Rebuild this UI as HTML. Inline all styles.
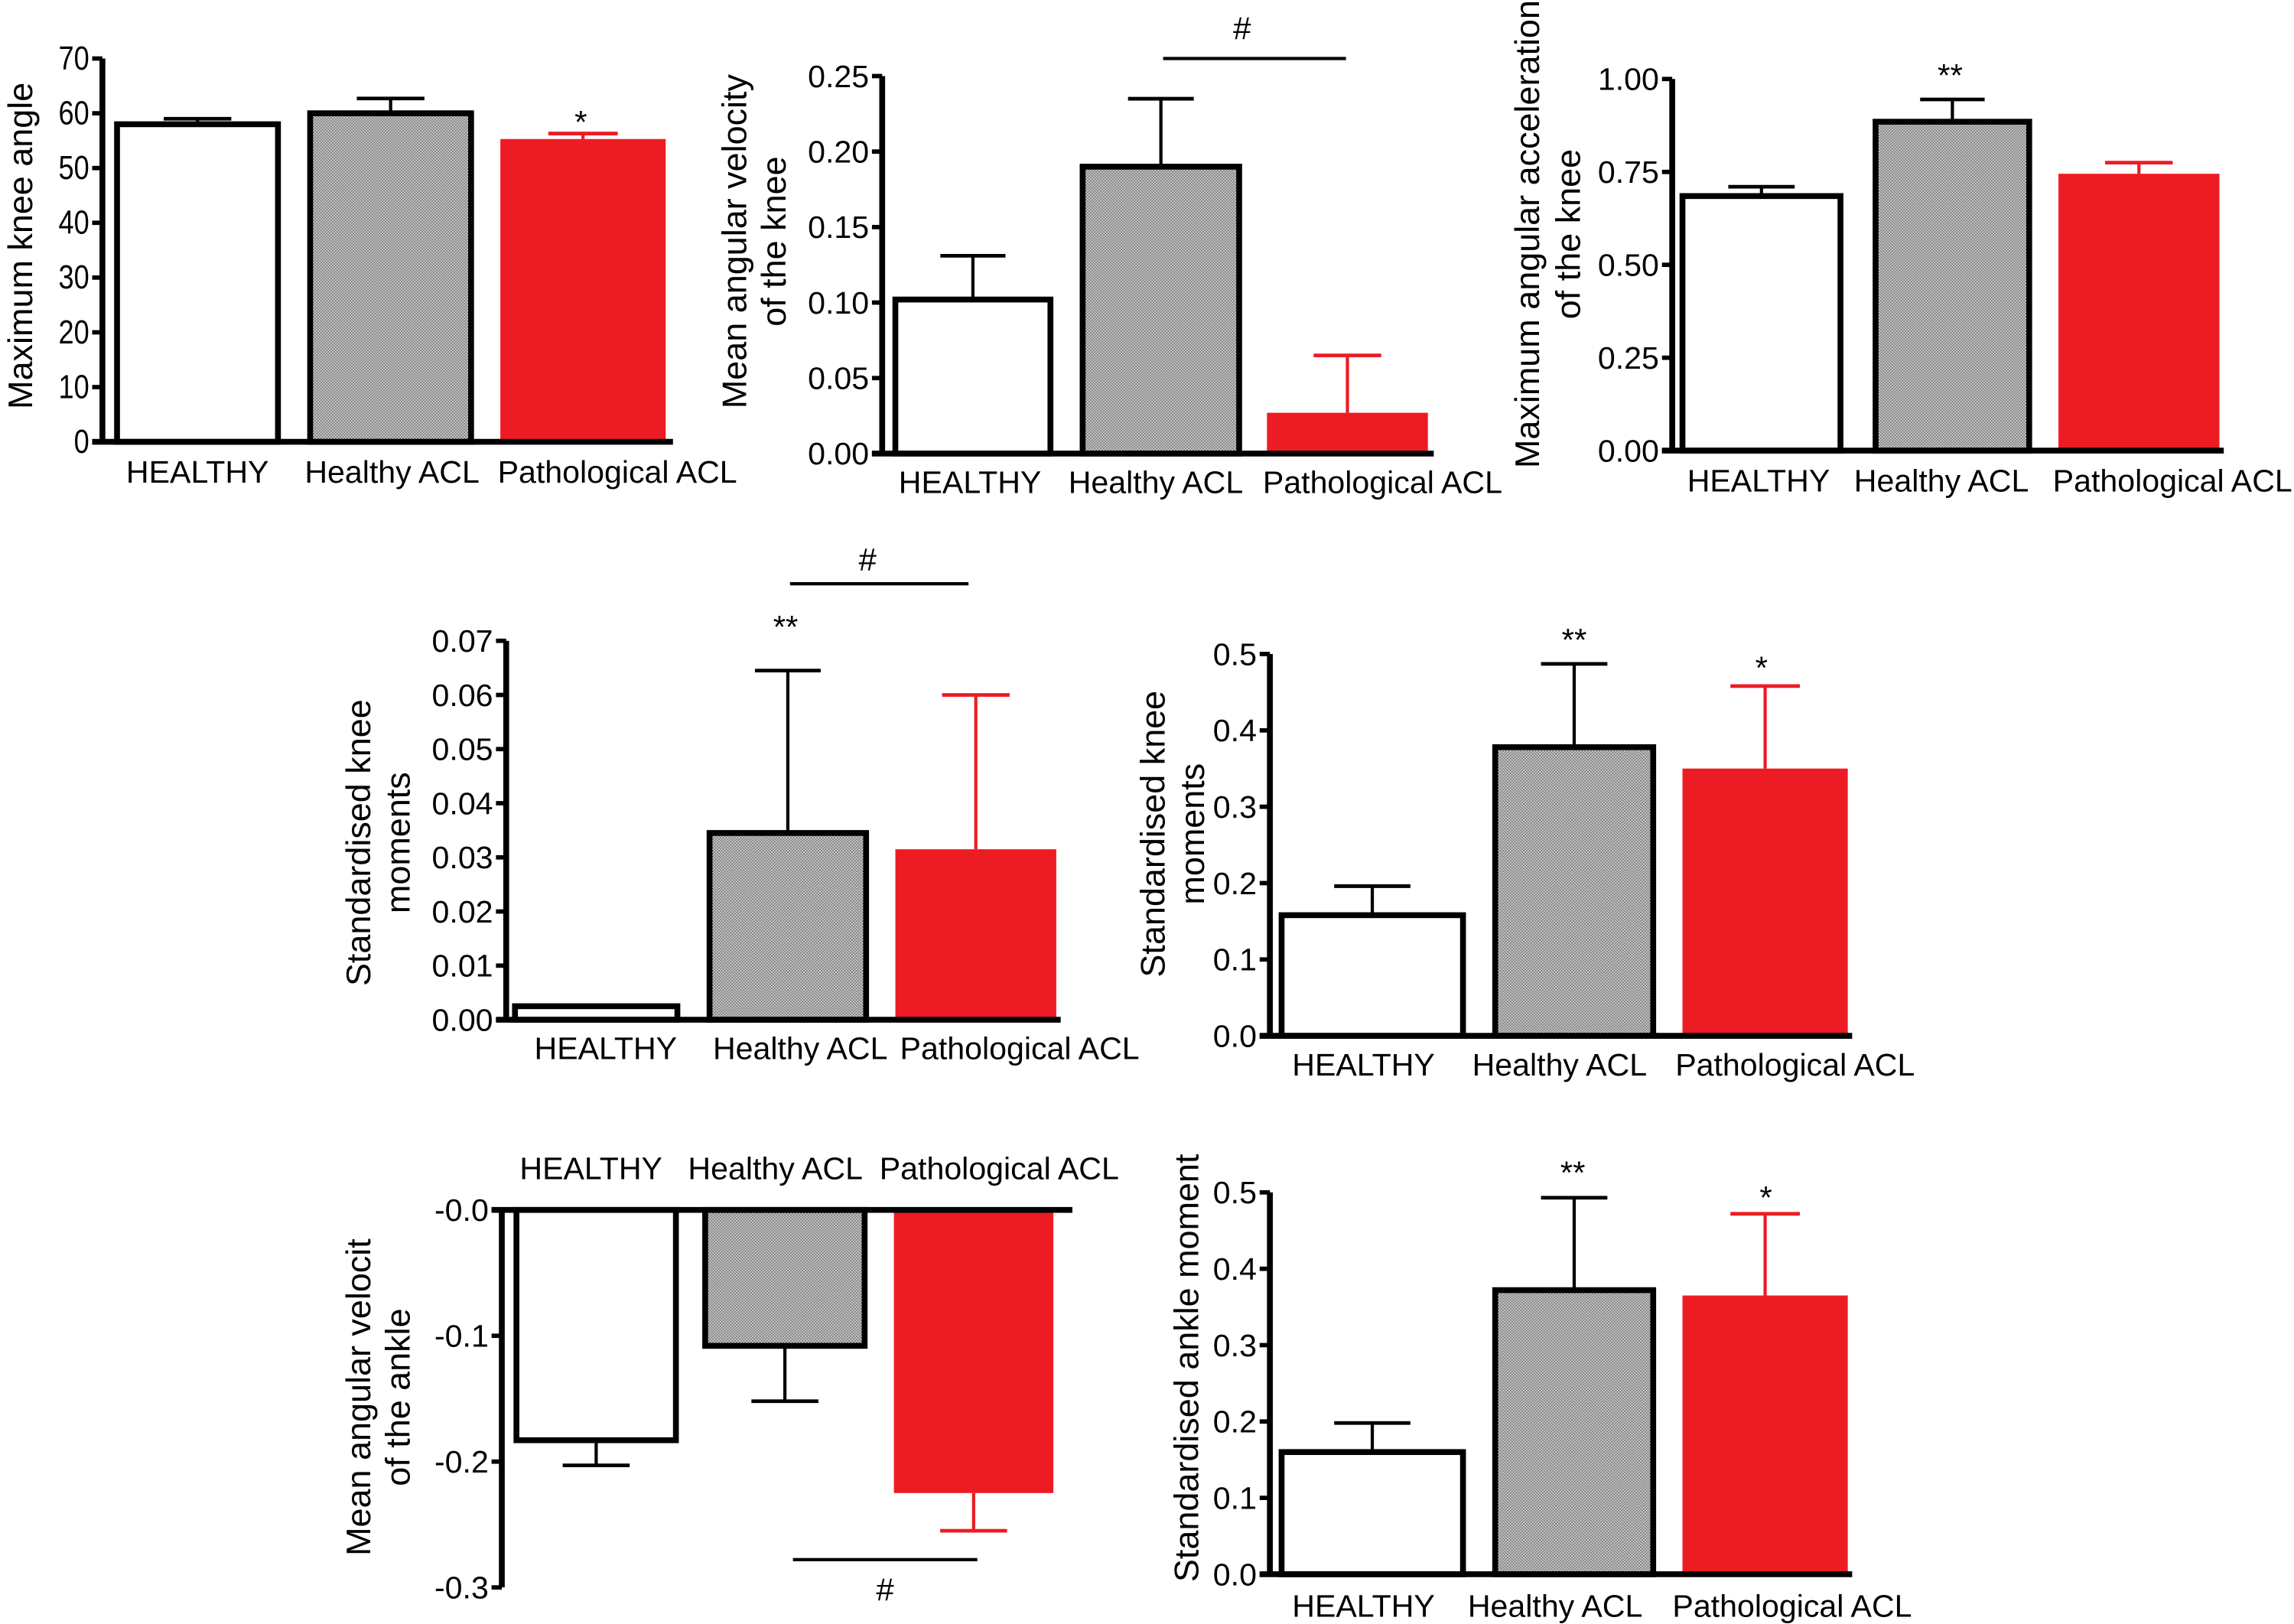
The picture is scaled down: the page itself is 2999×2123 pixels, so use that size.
<!DOCTYPE html>
<html><head><meta charset="utf-8"><style>
html,body{margin:0;padding:0;background:#fff;}
svg{display:block;font-family:"Liberation Sans",sans-serif;}
</style></head><body>
<svg id="fig" width="2999" height="2123" viewBox="0 0 1568 1110" preserveAspectRatio="none" xmlns="http://www.w3.org/2000/svg">
<defs>
<pattern id="checker" width="2" height="2" patternUnits="userSpaceOnUse">
<rect width="2" height="2" fill="#d0d0d0"/><rect width="1" height="1" fill="#7a7a7a"/><rect x="1" y="1" width="1" height="1" fill="#7a7a7a"/>
</pattern>
</defs>
</svg>
<script>
const categories = ["HEALTHY","Healthy ACL","Pathological ACL"];
const c1Values = [58, 60, 55.3];
const c1Errors = [59, 62.7, 56.3];
const c1Ticks = ["0","10","20","30","40","50","60","70"];
const c2Values = [0.102, 0.19, 0.027];
const c2Errors = [0.131, 0.235, 0.065];
const c2Ticks = ["0.00","0.05","0.10","0.15","0.20","0.25"];
const c3Values = [0.685, 0.885, 0.745];
const c3Errors = [0.71, 0.945, 0.775];
const c3Ticks = ["0.00","0.25","0.50","0.75","1.00"];
const c4Values = [0.0025, 0.0345, 0.0315];
const c4Errors = [0.0025, 0.0645, 0.060];
const c4Ticks = ["0.00","0.01","0.02","0.03","0.04","0.05","0.06","0.07"];
const c5Values = [0.158, 0.378, 0.35];
const c5Errors = [0.196, 0.487, 0.458];
const c5Ticks = ["0.0","0.1","0.2","0.3","0.4","0.5"];
const c6Values = [-0.183, -0.108, -0.225];
const c6Errors = [-0.203, -0.152, -0.255];
const c6Ticks = ["-0.0","-0.1","-0.2","-0.3"];
const c7Values = [0.16, 0.372, 0.365];
const c7Errors = [0.198, 0.493, 0.472];
const c7Ticks = ["0.0","0.1","0.2","0.3","0.4","0.5"];

const svg = document.getElementById('fig');
const NS = 'http://www.w3.org/2000/svg';
function mk(tag, attrs, parent){const e=document.createElementNS(NS,tag);for(const k in attrs)e.setAttribute(k,attrs[k]);(parent||svg).appendChild(e);return e;}

function chart(cfg){
  const g = mk('g',{});
  
  
  const y = v => cfg.y0 + (v - cfg.vmin)/(cfg.vmax - cfg.vmin)*(cfg.y1 - cfg.y0);
  const zero = y(0);
  const fills = ['#fff','url(#checker)','#ed1c24'];
  cfg.values.forEach((v,i)=>{
    const [xa,xb] = cfg.bars[i];
    const red = i===2;
    const col = red ? '#ed1c24' : '#000';
    const ye = y(cfg.errors[i]);
    const yv = y(v);
    const cx = (xa+xb)/2;
    const w = (xb-xa)*0.42;
    if (Math.abs(cfg.errors[i]-v) > 1e-9) {
      const l = mk('line',{x1:cx,x2:cx,y1:yv,y2:ye,stroke:col,'stroke-width':2.2},g);
      
      
      const c = mk('line',{x1:cx-w/2,x2:cx+w/2,y1:ye,y2:ye,stroke:col,'stroke-width':2.5},g);
      
      
    }
    const top = Math.min(yv, zero), h = Math.abs(yv-zero);
    const r = mk('rect',{x:xa,y:top,width:xb-xa,height:h,fill:fills[i],stroke:red?'none':'#000','stroke-width':red?0:4},g);
    
    
  });
  const ay = mk('line',{x1:cfg.ax,x2:cfg.ax,y1:cfg.y0,y2:cfg.y1,stroke:'#000','stroke-width':4},g);
  
  
  const ax = mk('line',{x1:cfg.ax-7,x2:cfg.xend,y1:zero,y2:zero,stroke:'#000','stroke-width':4},g);
  
  
  cfg.ticks.forEach((t,i)=>{
    const v = cfg.vmin + i*(cfg.vmax-cfg.vmin)/(cfg.ticks.length-1);
    const ty = y(v);
    mk('line',{x1:cfg.ax-7,x2:cfg.ax,y1:ty,y2:ty,stroke:'#000','stroke-width':3},g);
    const tx = mk('text',{x:cfg.ax-9,y:ty+7.5,'text-anchor':'end','font-size':cfg.tlw?23:21.5},g);
    if(cfg.tlw){tx.setAttribute('textLength',cfg.tlw*t.length);tx.setAttribute('lengthAdjust','spacingAndGlyphs');}
    tx.textContent = t;
    
    
  });
  categories.forEach((c,i)=>{
    const t = mk('text',{x:cfg.labx[i],y:cfg.laby,'text-anchor':'middle','font-size':21.5},g);
    t.textContent = c;
    
    
  });
  cfg.ylab.forEach((s,i)=>{
    const lx = cfg.ylx[i];
    const t = mk('text',{x:lx,y:cfg.ylc,'text-anchor':'middle','font-size':23.5,transform:`rotate(-90 ${lx} ${cfg.ylc})`},g);
    t.textContent = s;
    
    
  });
  (cfg.marks||[]).forEach(m=>{
    const t = mk('text',{x:m[1],y:m[2],'text-anchor':'middle','font-size':22},g);
    t.textContent = m[0];
    
    
  });
  if(cfg.hash){
    const h=cfg.hash;
    const l = mk('line',{x1:h[0],x2:h[1],y1:h[2],y2:h[2],stroke:'#000','stroke-width':2.2},g);
    
    
    const t = mk('text',{x:h[3],y:h[4],'text-anchor':'middle','font-size':22},g);
    t.textContent = '#';
    
    
  }
}

chart({name:'max-knee-angle-chart',values:c1Values,errors:c1Errors,ticks:c1Ticks,vmin:0,vmax:70,y0:302,y1:40,ax:70,xend:460,tlw:10.5,
  bars:[[80,190],[212,322],[342,455]],labx:[135,268,422],laby:330,ylab:['Maximum knee angle'],ylx:[22],ylc:168,marks:[['*',397,91]]});
chart({name:'knee-angular-velocity-chart',values:c2Values,errors:c2Errors,ticks:c2Ticks,vmin:0,vmax:0.25,y0:310,y1:52,ax:603,xend:980,
  bars:[[612,718],[740,847],[866,976]],labx:[663,790,945],laby:337,ylab:['Mean angular velocity','of the knee'],ylx:[510,537],ylc:165,hash:[795,920,40,849,27]});
chart({name:'knee-angular-acceleration-chart',values:c3Values,errors:c3Errors,ticks:c3Ticks,vmin:0,vmax:1,y0:308,y1:54,ax:1143,xend:1520,
  bars:[[1150,1258],[1282,1387],[1407,1517]],labx:[1202,1327,1485],laby:336,ylab:['Maximum angular acceleration','of the knee'],ylx:[1052,1080],ylc:160,marks:[['**',1333,59]]});
chart({name:'knee-moments-small-chart',values:c4Values,errors:c4Errors,ticks:c4Ticks,vmin:0,vmax:0.07,y0:697,y1:438,ax:346,xend:725,
  bars:[[352,463],[485,592],[612,722]],labx:[414,547,697],laby:724,ylab:['Standardised knee','moments'],ylx:[253,280],ylc:576,marks:[['**',537,436]],hash:[540,662,399,593,390]});
chart({name:'knee-moments-chart',values:c5Values,errors:c5Errors,ticks:c5Ticks,vmin:0,vmax:0.5,y0:708,y1:447,ax:868,xend:1266,
  bars:[[876,1000],[1022,1130],[1150,1263]],labx:[932,1066,1227],laby:735,ylab:['Standardised knee','moments'],ylx:[796,823],ylc:570,marks:[['**',1076,445],['*',1204,464]]});
chart({name:'ankle-angular-velocity-chart',values:c6Values,errors:c6Errors,ticks:c6Ticks,vmin:0,vmax:-0.3,y0:827,y1:1085,ax:343,xend:733,
  bars:[[353,462],[482,591],[611,720]],labx:[404,530,683],laby:806,ylab:['Mean angular velocit','of the ankle'],ylx:[253,280],ylc:955,hash:[542,668,1066,605,1094]});
chart({name:'ankle-moment-chart',values:c7Values,errors:c7Errors,ticks:c7Ticks,vmin:0,vmax:0.5,y0:1076,y1:815,ax:868,xend:1266,
  bars:[[876,1000],[1022,1130],[1150,1263]],labx:[932,1063,1225],laby:1105,ylab:['Standardised ankle moment'],ylx:[819],ylc:935,marks:[['**',1075,809],['*',1207,826]]});
</script>
</body></html>
